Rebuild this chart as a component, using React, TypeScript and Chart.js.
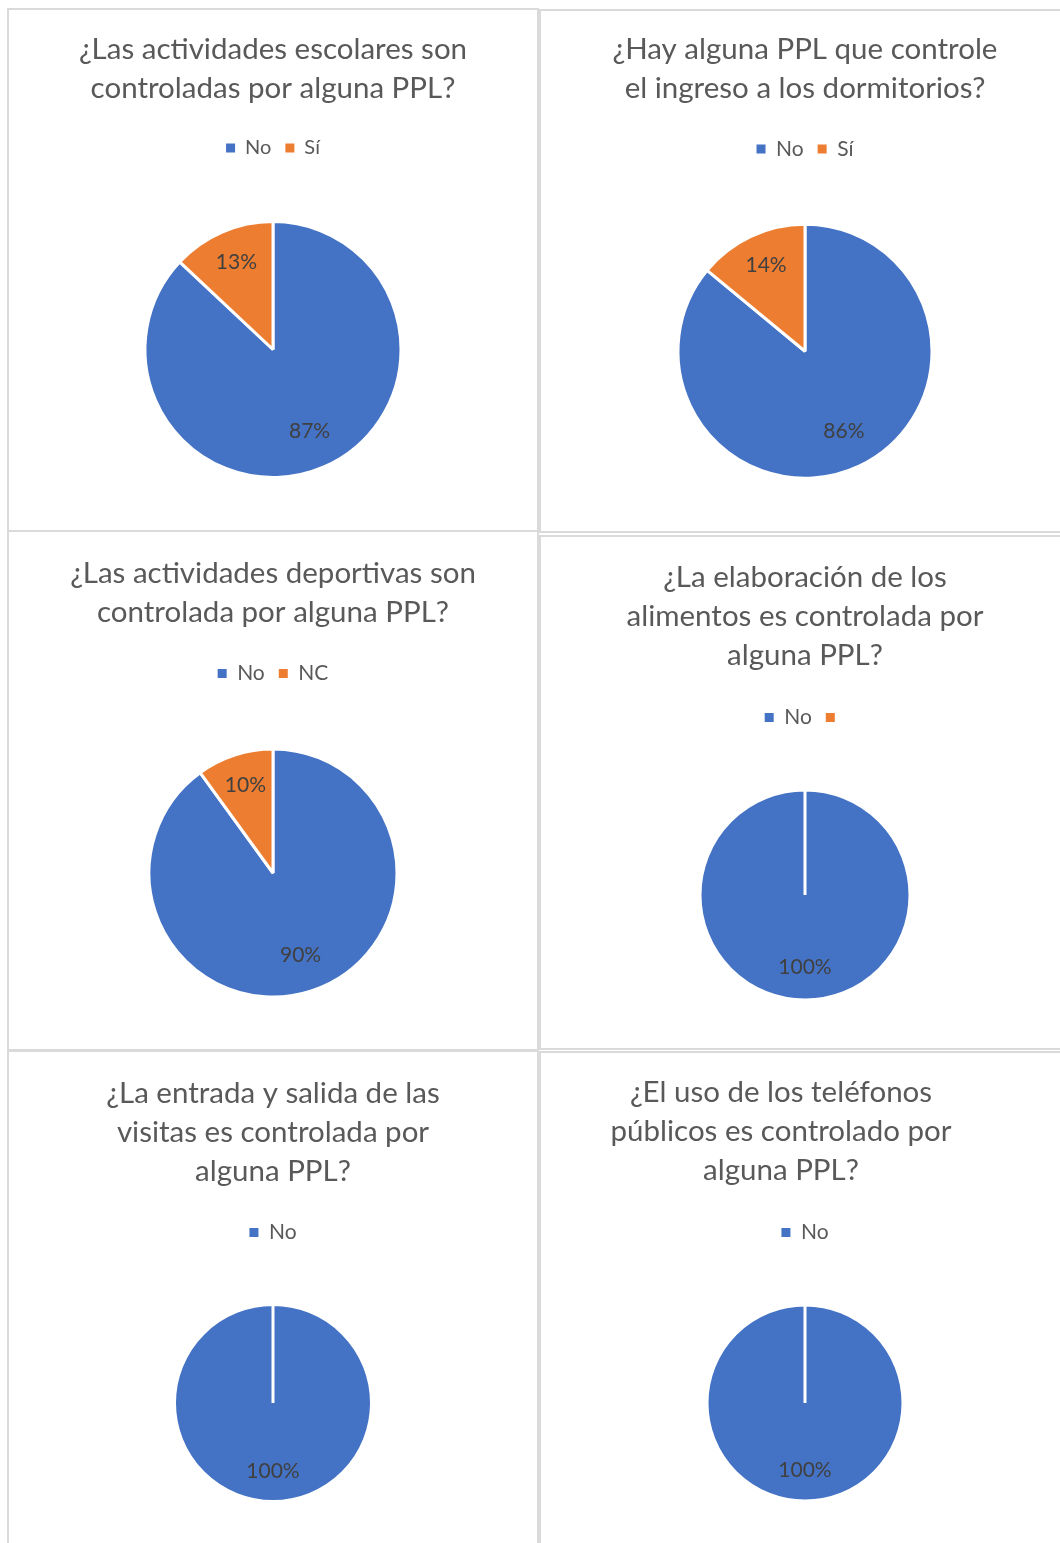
import { useEffect, useRef } from "react";
import { Chart, registerables } from "chart.js";

Chart.register(...registerables);

const FONT = "Lato, 'Noto Sans', sans-serif";
const BLUE = "#4472C4";
const ORANGE = "#ED7D31";
const TEXT = "#595959";
const LABEL = "#404040";

// ---- data ----
const title1 = ["¿Las actividades escolares son", "controladas por alguna PPL?"];
const labels1 = ["No", "Sí"];
const values1 = [87, 13];

const title2 = ["¿Hay alguna PPL que controle", "el ingreso a los dormitorios?"];
const labels2 = ["No", "Sí"];
const values2 = [86, 14];

const title3 = ["¿Las actividades deportivas son", "controlada por alguna PPL?"];
const labels3 = ["No", "NC"];
const values3 = [90, 10];

const title4 = ["¿La elaboración de los", "alimentos es controlada por", "alguna PPL?"];
const labels4 = ["No", ""];
const values4 = [100, 0];

const title5 = ["¿La entrada y salida de las", "visitas es controlada por", "alguna PPL?"];
const labels5 = ["No"];
const values5 = [100];

const title6 = ["¿El uso de los teléfonos", "públicos es controlado por", "alguna PPL?"];
const labels6 = ["No"];
const values6 = [100];

// ---- layout (positions / sizes / styles) ----
type Cell = {
  left: number; top: number; width: number; height: number;
  canvasH: number; radius: number; padTop: number; padBottom: number;
  legendSize: number; titleShift: number;
};

const cells: Cell[] = [
  { left: 7, top: 8, width: 532, height: 524, canvasH: 521, radius: 128, padTop: 20, padBottom: 16, legendSize: 20, titleShift: 0 },
  { left: 539, top: 9, width: 532, height: 524, canvasH: 522, radius: 127, padTop: 18.5, padBottom: 17, legendSize: 21, titleShift: 0 },
  { left: 7, top: 530, width: 532, height: 521, canvasH: 520, radius: 124, padTop: 21.5, padBottom: 17.5, legendSize: 21, titleShift: 0 },
  { left: 539, top: 535, width: 532, height: 515, canvasH: 515, radius: 105, padTop: 20.5, padBottom: 18.5, legendSize: 21, titleShift: 0 },
  { left: 7, top: 1050, width: 532, height: 520, canvasH: 501, radius: 98.5, padTop: 21.5, padBottom: 17.5, legendSize: 21, titleShift: 0 },
  { left: 539, top: 1051, width: 532, height: 520, canvasH: 500, radius: 98, padTop: 19.5, padBottom: 18.5, legendSize: 21, titleShift: -24 },
];

const series = [
  { title: title1, labels: labels1, values: values1 },
  { title: title2, labels: labels2, values: values2 },
  { title: title3, labels: labels3, values: values3 },
  { title: title4, labels: labels4, values: values4 },
  { title: title5, labels: labels5, values: values5 },
  { title: title6, labels: labels6, values: values6 },
];

const pctLabels = {
  id: "pctLabels",
  afterDatasetsDraw(chart: any) {
    const ctx = chart.ctx;
    const meta = chart.getDatasetMeta(0);
    const data = chart.data.datasets[0].data as number[];
    const total = data.reduce((a: number, b: number) => a + b, 0);
    meta.data.forEach((arc: any, i: number) => {
      const v = data[i];
      if (!v) return;
      const p = arc.getProps(["x", "y", "startAngle", "endAngle", "outerRadius"], true);
      const mid = (p.startAngle + p.endAngle) / 2;
      const d = p.outerRadius * 0.72;
      ctx.save();
      ctx.font = `21px ${FONT}`;
      ctx.fillStyle = LABEL;
      ctx.textAlign = "center";
      ctx.textBaseline = "middle";
      ctx.fillText(Math.round((v / total) * 100) + "%", p.x + Math.cos(mid) * d, p.y + Math.sin(mid) * d - 3);
      ctx.restore();
    });
  },
};

const defaultLabels = (Chart as any).overrides.pie.plugins.legend.labels.generateLabels;

function PieCell({ idx }: { idx: number }) {
  const ref = useRef<HTMLCanvasElement | null>(null);
  const cell = cells[idx];
  const s = series[idx];
  useEffect(() => {
    if (!ref.current) return;
    const shiftPlugin = {
      id: "titleShift",
      afterLayout(chart: any) {
        const tb = chart.titleBlock;
        if (tb && cell.titleShift) {
          tb.left += cell.titleShift;
          tb.right += cell.titleShift;
        }
      },
    };
    const chart = new Chart(ref.current, {
      type: "pie",
      data: {
        labels: s.labels,
        datasets: [
          {
            data: s.values,
            backgroundColor: [BLUE, ORANGE],
            borderColor: "#ffffff",
            borderWidth: 3,
          },
        ],
      },
      options: {
        responsive: false,
        animation: false,
        radius: cell.radius,
        layout: { padding: 0 },
        plugins: {
          title: {
            display: true,
            text: s.title,
            color: TEXT,
            font: { family: FONT, size: 29.5, weight: "normal", lineHeight: 39 / 29.5 },
            padding: { top: cell.padTop, bottom: cell.padBottom },
          },
          legend: {
            display: true,
            position: "top",
            labels: {
              boxWidth: 9,
              boxHeight: 9,
              padding: 14,
              color: TEXT,
              font: { family: FONT, size: cell.legendSize },
              generateLabels: (c: any) =>
                defaultLabels(c).map((l: any) => ({ ...l, lineWidth: 0, strokeStyle: "rgba(0,0,0,0)" })),
            },
          },
          tooltip: { enabled: false },
        },
      } as any,
      plugins: [pctLabels, shiftPlugin],
    });
    return () => chart.destroy();
  }, []);
  return (
    <div
      style={{
        position: "absolute",
        left: cell.left,
        top: cell.top,
        width: cell.width,
        height: cell.height,
        border: "2px solid #dadada",
        boxSizing: "border-box",
        overflow: "hidden",
        background: "#fff",
      }}
    >
      <canvas ref={ref} width={cell.width - 4} height={cell.canvasH} style={{ display: "block" }} />
    </div>
  );
}

export default function App() {
  return (
    <div
      style={{
        position: "fixed",
        left: 0,
        top: 0,
        width: 1060,
        height: 1543,
        overflow: "hidden",
        background: "#fff",
      }}
    >
      {cells.map((_, i) => (
        <PieCell key={i} idx={i} />
      ))}
    </div>
  );
}
